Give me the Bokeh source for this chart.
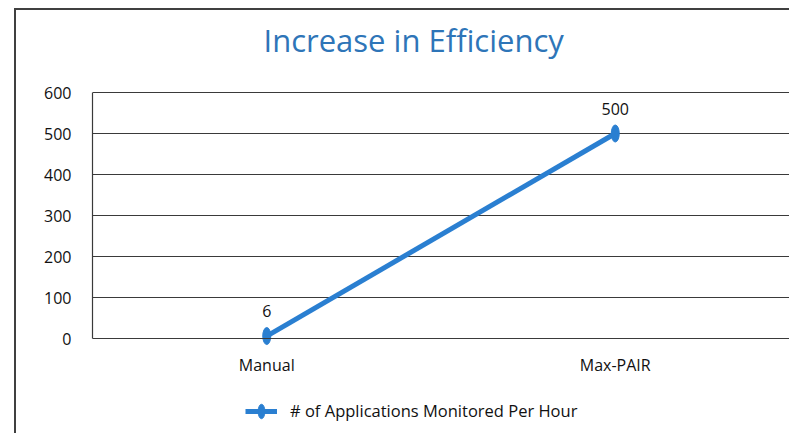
from bokeh.plotting import figure
from bokeh.models import (ColumnDataSource, FactorRange, Range1d, LabelSet,
                          Legend, LegendItem, FixedTicker, Label)
from bokeh.embed import file_html
from bokeh.resources import INLINE
from bokeh.core.properties import value

# ---- data ----
categories = ["Manual", "Max-PAIR"]
apps_per_hour = [6, 500]
series_name = "# of Applications Monitored Per Hour"
y_ticks = [0, 100, 200, 300, 400, 500, 600]
title_text = "Increase in Efficiency"

FONT = "Open Sans"
LINE_COLOR = "#2a7fd1"
TITLE_COLOR = "#2e75b8"
GRID_COLOR = "#3a3a3a"
TEXT_COLOR = "#111111"

# layout (pixels): the drawing area spans the whole height; 0..600 occupies 246px
H = 433
Y_MAX = 600
Y_PX = 246          # pixels between 0 and 600
ABOVE_PX = 92       # pixels above the 600 line (title room)
BELOW_PX = 95       # pixels below the zero line (labels + legend room)
y_min = -Y_MAX * BELOW_PX / Y_PX
y_top = Y_MAX + Y_MAX * ABOVE_PX / Y_PX

src = ColumnDataSource(dict(cat=categories, val=apps_per_hour,
                            lab=[str(v) for v in apps_per_hour]))

p = figure(x_range=FactorRange(*categories), y_range=Range1d(y_min, y_top),
           width=789, height=H, output_backend="svg", toolbar_location=None,
           min_border_left=92, min_border_right=0, min_border_top=0,
           min_border_bottom=0)
p.styles = {
    "background": "linear-gradient(#404040,#404040) 14px 8px / 2px 100% no-repeat, "
                  "linear-gradient(#404040,#404040) 14px 8px / 100% 2px no-repeat, white"
}
p.border_fill_alpha = 0
p.background_fill_alpha = 0
p.outline_line_color = None

p.xgrid.grid_line_color = None
p.ygrid.grid_line_color = GRID_COLOR
p.ygrid.grid_line_width = 1.2
p.yaxis.ticker = FixedTicker(ticks=y_ticks)
p.yaxis.bounds = (0, Y_MAX)
p.xaxis.fixed_location = 0

for ax in (p.xaxis[0], p.yaxis[0]):
    ax.axis_line_color = GRID_COLOR
    ax.axis_line_width = 1.2
    ax.major_tick_line_color = None
    ax.minor_tick_line_color = None
    ax.major_label_text_font = FONT
    ax.major_label_text_font_size = "16px"
    ax.major_label_text_color = TEXT_COLOR

p.yaxis.major_label_standoff = 15
p.xaxis.major_label_standoff = 9

title = Label(text=title_text, x=171, y=H - 39, x_units="screen", y_units="screen",
              text_font=FONT, text_font_size="31px", text_color=TITLE_COLOR,
              text_baseline="alphabetic", text_align="left")
p.add_layout(title)

line_r = p.line("cat", "val", source=src, line_color=LINE_COLOR, line_width=5)
mark_r = p.ellipse("cat", "val", source=src, width=8, height=17,
                   width_units="screen", height_units="screen",
                   fill_color=LINE_COLOR, line_color=LINE_COLOR)

labels = LabelSet(x="cat", y="val", text="lab", source=src,
                  text_align="center", text_baseline="middle", y_offset=25,
                  text_font=value(FONT), text_font_size="16px",
                  text_color=TEXT_COLOR)
p.add_layout(labels)

legend = Legend(items=[LegendItem(label=series_name, renderers=[line_r, mark_r])],
                location=(153, 11), orientation="horizontal",
                label_text_font=FONT, label_text_font_size="16.5px",
                label_text_color=TEXT_COLOR, glyph_width=32, glyph_height=18,
                border_line_color=None, background_fill_alpha=0,
                margin=0, padding=4, label_standoff=13)
p.add_layout(legend)

open("out.html", "w").write(file_html(p, INLINE))
